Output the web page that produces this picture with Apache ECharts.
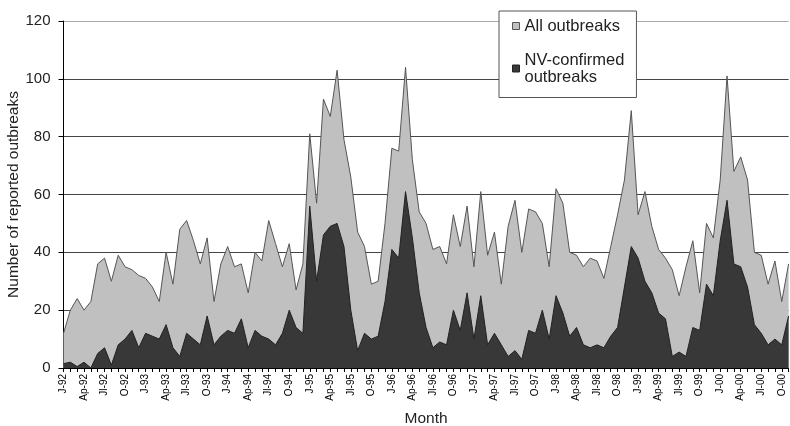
<!DOCTYPE html>
<html>
<head>
<meta charset="utf-8">
<script src="https://cdn.jsdelivr.net/npm/echarts@6/dist/echarts.min.js"></script>
<style>
html,body{margin:0;padding:0;background:#fff;}
#chart{width:790px;height:426px;}
</style>
</head>
<body>
<div id="chart"></div>
<script>
// Tick label parts (month abbreviations and two-digit years)
const monthAbbr = ['J','F','M','Ap','My','Jn','Jl','Au','S','O','N','D'];
const years = ['92','93','94','95','96','97','98','99','00'];

// All outbreaks per month, Jan 1992 onward
const allOutbreaks = [
  12,20,24,20,23,36,38,30,39,35,34,32,
  31,28,23,40,29,48,51,44,36,45,23,36,
  42,35,36,26,40,37,51,43,35,43,27,36,
  81,57,93,87,103,79,66,47,42,29,30,50,
  76,75,104,72,54,50,41,42,36,53,42,56,
  35,61,39,47,29,49,58,40,55,54,50,35,
  62,57,40,39,35,38,37,31,42,53,65,89,
  53,61,49,41,38,34,25,35,44,26,50,45,
  65,101,68,73,65,40,39,29,37,23,36
];

// NV-confirmed outbreaks per month
const nvConfirmed = [
  1.5,2,0.5,2,0,5,7,1,8,10,13,7,
  12,11,10,15,7,4,12,10,8,18,8,11,
  13,12,17,7,13,11,10,8,12,20,14,12,
  56,30,46,49,50,42,20,6,12,10,11,23,
  41,38,61,45,26,14,7,9,8,20,13,26,
  10,25,8,12,8,4,6,3,13,12,20,10,
  25,19,11,14,8,7,8,7,11,14,28,42,
  38,30,26,19,17,4,5.5,4,14,13,29,25,
  44,58,36,35,28,15,12,8,10,8,18
];

const categories = [];
years.forEach(function (y) {
  monthAbbr.forEach(function (m) { categories.push(m + '-' + y); });
});
const monthLabels = categories.slice(0, allOutbreaks.length);

const FONT = "'Liberation Sans', Arial, sans-serif";
const chart = echarts.init(document.getElementById('chart'), null, {renderer: 'canvas'});

chart.setOption({
  animation: false,
  backgroundColor: '#ffffff',
  textStyle: {fontFamily: FONT},
  grid: {left: 63.5, right: 1.4, top: 21, bottom: 58, containLabel: false, outerBoundsMode: 'none'},
  legend: {
    left: 499, top: 11,
    orient: 'vertical',
    backgroundColor: '#ffffff',
    borderColor: '#555555',
    borderWidth: 1,
    borderRadius: 0,
    padding: [6.5, 12, 3.5, 13],
    itemGap: 8.5,
    itemWidth: 7, itemHeight: 7,
    icon: 'rect',
    textStyle: {fontSize: 16.5, lineHeight: 17, color: '#222', fontFamily: FONT},
    data: [
      {name: 'All outbreaks', itemStyle: {color: '#c0c0c0', borderColor: '#555', borderWidth: 1}},
      {name: 'NV-confirmed\noutbreaks', itemStyle: {color: '#383838', borderColor: '#222', borderWidth: 1},
       textStyle: {padding: [17, 0, 0, 0]}}
    ]
  },
  xAxis: {
    type: 'category',
    data: monthLabels,
    boundaryGap: false,
    name: 'Month',
    nameLocation: 'middle',
    nameGap: 43,
    nameMoveOverlap: false,
    nameTextStyle: {fontSize: 15.5, color: '#222', fontFamily: FONT},
    axisLine: {lineStyle: {color: '#000', width: 1}},
    axisTick: {interval: 0, length: 4, lineStyle: {color: '#000'}},
    axisLabel: {interval: 2, rotate: 90, fontSize: 10, color: '#000', margin: 6, fontFamily: FONT},
    splitLine: {show: false}
  },
  yAxis: {
    type: 'value',
    min: 0, max: 120, interval: 20,
    name: 'Number of reported outbreaks',
    nameLocation: 'middle',
    nameGap: 41.5,
    nameMoveOverlap: false,
    nameTextStyle: {fontSize: 15.5, color: '#222', fontFamily: FONT},
    axisLine: {show: true, lineStyle: {color: '#000', width: 1}},
    axisTick: {show: true, length: 5, lineStyle: {color: '#000'}},
    axisLabel: {fontSize: 15, color: '#222', margin: 13, fontFamily: FONT},
    splitLine: {show: true, lineStyle: {color: ['#444','#444','#444','#444','#444','#444','#aaaaaa'], width: 1.2}}
  },
  series: [
    {
      name: 'All outbreaks',
      type: 'line',
      data: allOutbreaks,
      showSymbol: false,
      symbol: 'none',
      lineStyle: {color: '#555555', width: 1},
      areaStyle: {color: '#c0c0c0', opacity: 1},
      itemStyle: {color: '#c0c0c0'},
      z: 2
    },
    {
      name: 'NV-confirmed\noutbreaks',
      type: 'line',
      data: nvConfirmed,
      showSymbol: false,
      symbol: 'none',
      lineStyle: {color: '#222222', width: 1},
      areaStyle: {color: '#383838', opacity: 1},
      itemStyle: {color: '#383838'},
      z: 3
    }
  ]
});
</script>
</body>
</html>
